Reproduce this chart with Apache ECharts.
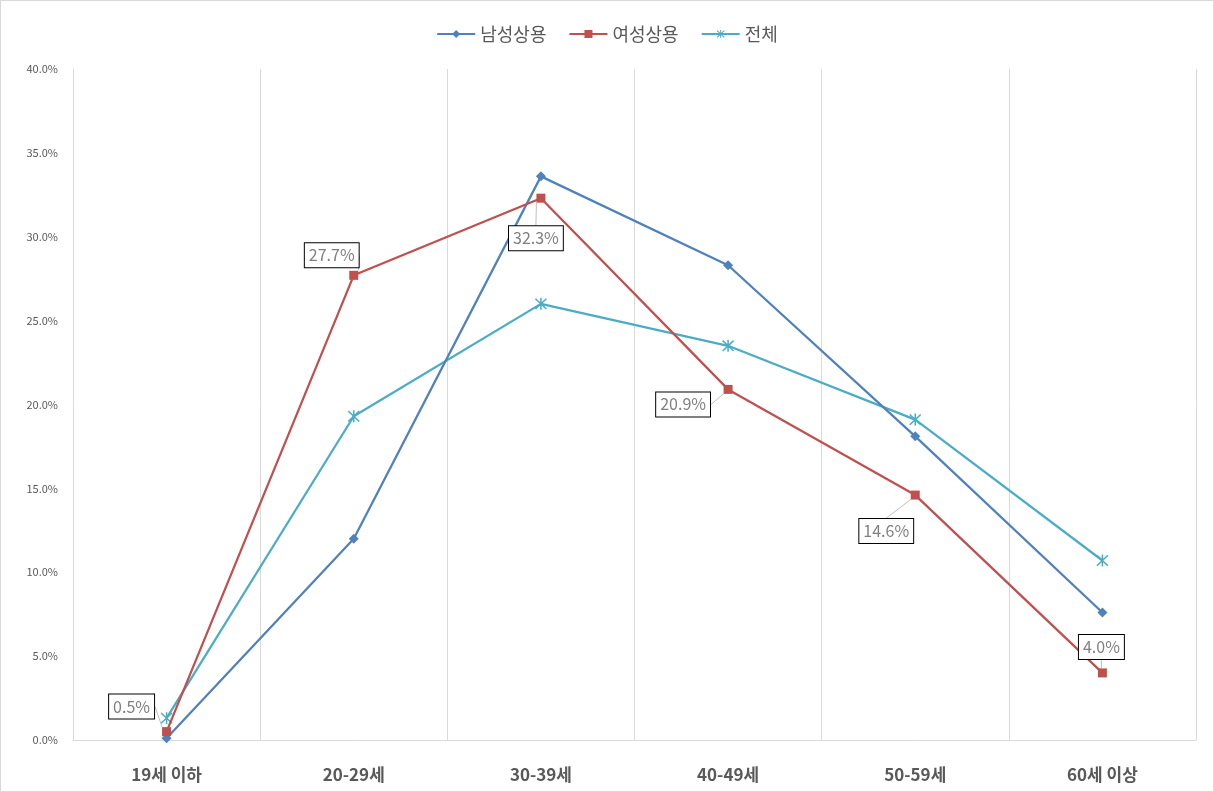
<!DOCTYPE html>
<html><head><meta charset="utf-8">
<script src="https://cdn.jsdelivr.net/npm/echarts@6/dist/echarts.min.js"></script>
<style>html,body{margin:0;padding:0;background:#fff;}#c{width:1212px;height:790px;border:1px solid #d9d9d9;}</style>
</head><body><div id="c"></div>
<script>
const categories = ['19세 이하', '20-29세', '30-39세', '40-49세', '50-59세', '60세 이상'];
const maleValues = [0.1, 12.0, 33.6, 28.3, 18.1, 7.6];
const femaleValues = [0.5, 27.7, 32.3, 20.9, 14.6, 4.0];
const totalValues = [1.3, 19.3, 26.0, 23.5, 19.1, 10.7];
const yTicks = [0, 5, 10, 15, 20, 25, 30, 35, 40];
const seriesNames = ['남성상용', '여성상용', '전체'];
const labelOffsets = [[-35, -25], [-22, -20], [-5, 40], [-45, 15], [-29, 36], [-1, -26]];

const font = "'Noto Sans CJK KR', 'Noto Sans', sans-serif";
const star = 'path://M-0.6,-5L0.6,-5L0.6,5L-0.6,5Z M-3.88,-4.72L4.72,3.88L3.88,4.72L-4.72,-3.88Z M3.88,-4.72L4.72,-3.88L-3.88,4.72L-4.72,3.88Z';

const chart = echarts.init(document.getElementById('c'));
chart.setOption({
  animation: false,
  textStyle: { fontFamily: font },
  legend: {
    top: 19, left: 'center', itemWidth: 38, itemHeight: 10, itemGap: 22,
    textStyle: { fontSize: 18, color: '#595959', fontFamily: font },
    data: seriesNames
  },
  grid: { left: 72, right: 17, top: 68, bottom: 51 },
  xAxis: {
    type: 'category', data: categories, boundaryGap: true,
    axisLine: { show: true, lineStyle: { color: '#d9d9d9', width: 1 } },
    axisTick: { show: false },
    splitLine: { show: true, lineStyle: { color: '#d9d9d9', width: 1 } },
    axisLabel: { fontSize: 17, fontWeight: 'bold', color: '#595959', margin: 26, fontFamily: font }
  },
  yAxis: {
    type: 'value', min: yTicks[0], max: yTicks[yTicks.length - 1], interval: 5,
    axisLine: { show: false }, axisTick: { show: false },
    splitLine: { show: false },
    axisLabel: { fontSize: 11, color: '#595959', margin: 15, formatter: v => v.toFixed(1) + '%' }
  },
  series: [
    {
      name: seriesNames[0], type: 'line', data: maleValues,
      symbol: 'diamond', symbolSize: 10,
      lineStyle: { color: '#4F81BD', width: 2.25 }, itemStyle: { color: '#4F81BD' }
    },
    {
      name: seriesNames[1], type: 'line', data: femaleValues,
      symbol: 'rect', symbolSize: 9,
      lineStyle: { color: '#C0504D', width: 2.25 }, itemStyle: { color: '#C0504D' },
      label: {
        show: true, position: 'inside', formatter: p => p.value.toFixed(1) + '%',
        color: '#808080', fontSize: 16, backgroundColor: '#fff',
        borderColor: '#000', borderWidth: 1, padding: [5, 4, 3, 4], fontFamily: font
      },
      labelLine: { show: true, lineStyle: { color: '#bfbfbf', width: 1 } },
      labelLayout: p => ({ dx: labelOffsets[p.dataIndex][0], dy: labelOffsets[p.dataIndex][1] }),
      z: 3
    },
    {
      name: seriesNames[2], type: 'line', data: totalValues,
      symbol: star, symbolSize: 12,
      lineStyle: { color: '#4BACC6', width: 2.25 }, itemStyle: { color: '#4BACC6' },
      z: 2
    }
  ]
});
</script></body></html>
